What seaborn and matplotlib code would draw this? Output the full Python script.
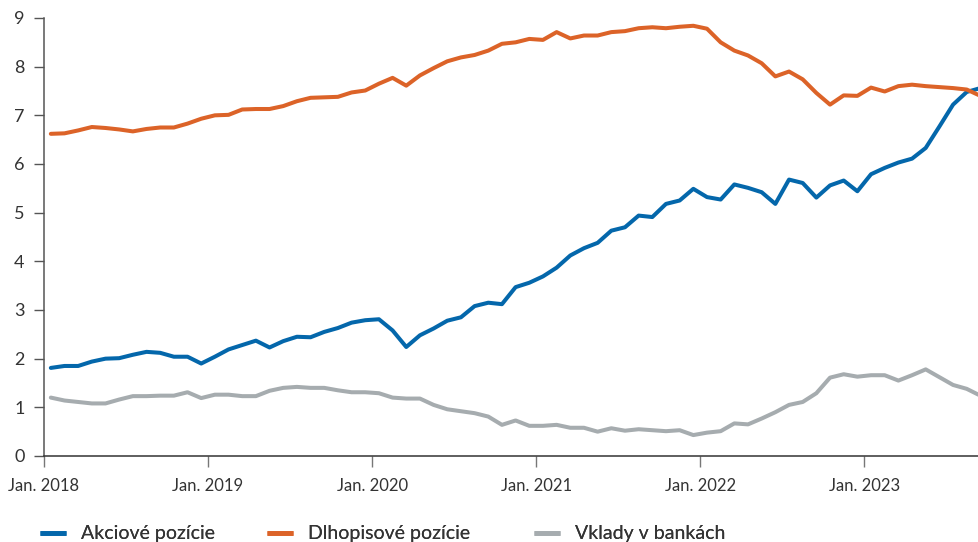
import matplotlib
matplotlib.use("Agg")
import matplotlib.pyplot as plt
import seaborn as sns
import pandas as pd
import numpy as np

# Monthly values, Jan 2018 – Sep 2023
months = pd.date_range("2018-01-01", "2023-09-01", freq="MS")

akciove = [1.81, 1.85, 1.85, 1.94, 2.00, 2.01, 2.08, 2.14, 2.12, 2.04, 2.04, 1.90,
           2.04, 2.19, 2.28, 2.37, 2.23, 2.36, 2.45, 2.44, 2.55, 2.63, 2.74, 2.79,
           2.81, 2.58, 2.24, 2.48, 2.62, 2.78, 2.85, 3.08, 3.15, 3.12, 3.47, 3.56,
           3.69, 3.87, 4.12, 4.27, 4.38, 4.63, 4.70, 4.94, 4.91, 5.18, 5.25, 5.49,
           5.32, 5.27, 5.58, 5.51, 5.42, 5.18, 5.68, 5.61, 5.31, 5.56, 5.66, 5.44,
           5.79, 5.92, 6.03, 6.11, 6.33, 6.77, 7.22, 7.48, 7.56]

dlhopisove = [6.62, 6.63, 6.69, 6.76, 6.74, 6.71, 6.67, 6.72, 6.75, 6.75, 6.83, 6.93,
              7.00, 7.01, 7.12, 7.13, 7.13, 7.19, 7.29, 7.36, 7.37, 7.38, 7.47, 7.51,
              7.65, 7.77, 7.61, 7.82, 7.97, 8.11, 8.19, 8.24, 8.33, 8.47, 8.50, 8.57,
              8.55, 8.71, 8.58, 8.64, 8.64, 8.71, 8.73, 8.79, 8.81, 8.79, 8.82, 8.84,
              8.78, 8.50, 8.33, 8.23, 8.07, 7.80, 7.90, 7.74, 7.46, 7.22, 7.41, 7.40,
              7.57, 7.49, 7.60, 7.63, 7.60, 7.58, 7.56, 7.53, 7.40]

vklady = [1.20, 1.14, 1.11, 1.08, 1.08, 1.16, 1.23, 1.23, 1.24, 1.24, 1.31, 1.19,
          1.26, 1.26, 1.23, 1.23, 1.34, 1.40, 1.42, 1.40, 1.40, 1.35, 1.31, 1.31,
          1.29, 1.20, 1.18, 1.18, 1.05, 0.96, 0.92, 0.88, 0.81, 0.64, 0.73, 0.62,
          0.62, 0.64, 0.58, 0.58, 0.50, 0.57, 0.52, 0.55, 0.53, 0.51, 0.53, 0.43,
          0.48, 0.51, 0.67, 0.65, 0.77, 0.90, 1.05, 1.11, 1.29, 1.61, 1.68, 1.63,
          1.66, 1.66, 1.55, 1.66, 1.78, 1.62, 1.46, 1.38, 1.24]

series_names = ["Akciové pozície", "Dlhopisové pozície", "Vklady v bankách"]
series_colors = ["#0467ab", "#dc6328", "#a6acaf"]
year_labels = ["Jan. 2018", "Jan. 2019", "Jan. 2020", "Jan. 2021", "Jan. 2022", "Jan. 2023"]
y_ticks = [0, 1, 2, 3, 4, 5, 6, 7, 8, 9]

n = len(months)
idx = np.arange(n)
df = pd.concat([
    pd.DataFrame({"idx": idx, "value": vals, "series": name})
    for name, vals in zip(series_names, [akciove, dlhopisove, vklady])
], ignore_index=True)

sns.set_style("ticks")
plt.rcParams["font.family"] = ["Lato", "DejaVu Sans"]

W, H = 979, 542
fig = plt.figure(figsize=(W / 100, H / 100), dpi=100)
ax = fig.add_axes([44 / W, (H - 456) / H, (W - 44) / W, (456 - 18) / H])

sns.lineplot(data=df, x="idx", y="value", hue="series",
             palette=dict(zip(series_names, series_colors)),
             hue_order=series_names, linewidth=2.9, ax=ax,
             legend=False)

# Categories are centred between the yearly tick marks
ax.set_xlim(-0.5, (W - 44) / 13.67 - 0.5)
ax.set_ylim(0, 9)
ax.set_xticks([12 * k - 0.5 for k in range(len(year_labels))])
ax.set_xticklabels(year_labels)
ax.set_yticks(y_ticks)
ax.set_xlabel("")
ax.set_ylabel("")

for side in ["top", "right"]:
    ax.spines[side].set_visible(False)
ax.spines["left"].set_color("#555555")
ax.spines["bottom"].set_color("#333333")
ax.spines["left"].set_linewidth(1.1)
ax.spines["bottom"].set_linewidth(1.1)
ax.tick_params(axis="y", length=7, width=1.0, color="#555555",
               labelsize=13, labelcolor="#333333", pad=7)
ax.tick_params(axis="x", length=8, width=1.0, color="#777777",
               labelsize=12, labelcolor="#333333", pad=8)

# One legend entry per series, laid out along the bottom edge
legend_x = [40, 267, 534]
for name, color, lx in zip(series_names, series_colors, legend_x):
    handle = plt.Line2D([], [], color=color, linewidth=3.4, solid_capstyle="butt")
    leg = fig.legend([handle], [name], loc="center left",
                     bbox_to_anchor=(lx / W, (H - 534) / H), frameon=False,
                     fontsize=14, handlelength=1.35, handletextpad=0.75,
                     labelcolor="#333333", borderaxespad=0, borderpad=0)
    fig.add_artist(leg)

fig.savefig("out.png", dpi=100)
